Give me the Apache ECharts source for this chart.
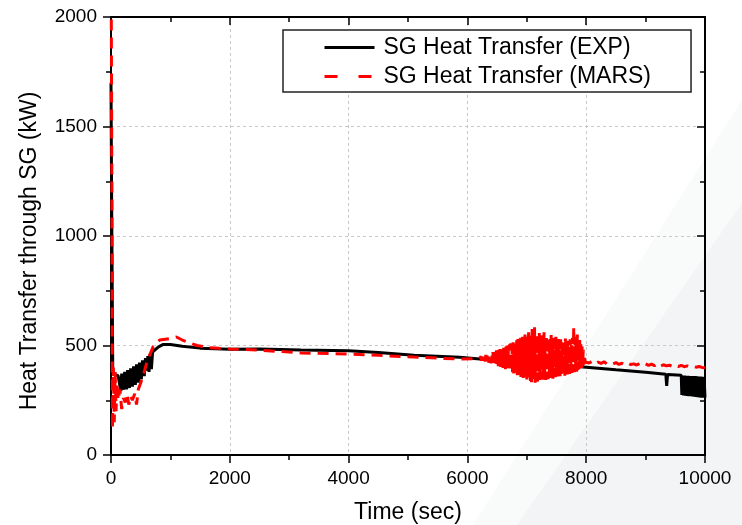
<!DOCTYPE html>
<html>
<head>
<meta charset="utf-8">
<script src="https://cdn.jsdelivr.net/npm/echarts@6/dist/echarts.min.js"></script>
<style>html,body{margin:0;padding:0;background:#fff}#c{width:742px;height:525px}</style>
</head>
<body>
<div id="c"></div>
<script>
var FONT = 'Liberation Sans, Arial, sans-serif';
var seriesNames = ['SG Heat Transfer (EXP)', 'SG Heat Transfer (MARS)'];
var xTicks = [0, 2000, 4000, 6000, 8000, 10000];
var yTicks = [0, 500, 1000, 1500, 2000];

var expTime = [0, 10, 30, 60, 120, 150, 165, 180, 210, 230, 260, 280, 310, 330, 360, 380, 410, 430, 460, 480, 510, 530, 560, 580, 600, 620, 640, 660, 680, 700, 750, 800, 880, 1000, 1200, 1500, 2000, 2500, 3200, 4000, 4500, 5100, 5870, 6500, 7000, 7500, 8000, 8500, 9000, 9340, 9355, 9370, 9600,
  9610, 9625, 9640, 9655, 9670, 9685, 9700, 9715, 9730, 9745, 9760, 9775, 9790, 9805, 9820, 9835, 9850, 9865, 9880, 9895, 9910, 9925, 9940, 9955, 9970, 9985, 10000];
var expValue = [1700, 1200, 370, 365, 362, 368, 292, 372, 298, 380, 300, 388, 306, 396, 312, 405, 320, 414, 330, 422, 345, 432, 360, 442, 385, 452, 380, 462, 392, 470, 482, 494, 505, 505, 497, 488, 483, 484, 480, 476, 468, 456, 446, 432, 422, 412, 401, 389, 378, 369, 316, 368, 364,
  274, 363, 272, 363, 271, 362, 270, 362, 269, 361, 268, 361, 267, 360, 266, 360, 265, 359, 264, 358, 263, 358, 262, 357, 262, 356, 262];

var marsTime = [0, 15, 25, 40, 55, 70, 85, 100, 120, 150, 180, 210, 240, 270, 300, 330, 360, 400, 430, 460, 500, 550, 600, 650, 710, 760, 820, 1000, 1100, 1200, 1330, 1450, 1650, 1820, 2000, 2500, 3200, 4000, 4500, 5100, 5870,
  6200, 6210, 6220, 6230, 6240, 6250, 6260, 6270, 6280, 6290, 6300, 6310, 6320, 6330, 6340, 6350, 6360, 6370, 6380, 6390,
  6400, 6410, 6420, 6430, 6440, 6450, 6460, 6470, 6480, 6490, 6500, 6510, 6520, 6530, 6540, 6550, 6560, 6570, 6580, 6590,
  6600, 6610, 6620, 6630, 6640, 6650, 6660, 6670, 6680, 6690, 6700, 6710, 6720, 6730, 6740, 6750, 6760, 6770, 6780, 6790,
  6800, 6810, 6820, 6830, 6840, 6850, 6860, 6870, 6880, 6890, 6900, 6910, 6920, 6930, 6940, 6950, 6960, 6970, 6980, 6990,
  7000, 7010, 7020, 7030, 7040, 7050, 7060, 7070, 7080, 7090, 7100, 7110, 7120, 7130, 7140, 7150, 7160, 7170, 7180, 7190,
  7200, 7210, 7220, 7230, 7240, 7250, 7260, 7270, 7280, 7290, 7300, 7310, 7320, 7330, 7340, 7350, 7360, 7370, 7380, 7390,
  7400, 7410, 7420, 7430, 7440, 7450, 7460, 7470, 7480, 7490, 7500, 7510, 7520, 7530, 7540, 7550, 7560, 7570, 7580, 7590,
  7600, 7610, 7620, 7630, 7640, 7650, 7660, 7670, 7680, 7690, 7700, 7710, 7720, 7730, 7740, 7750, 7760, 7770, 7780, 7790,
  7800, 7810, 7820, 7830, 7840, 7850, 7860, 7870, 7880, 7890, 7900, 7910, 7920, 7930, 7940, 7950, 7960, 7970, 7980, 7990,
  8000, 8050, 8100, 8150, 8200, 8250, 8300, 8350, 8400, 8450, 8500, 8550, 8600, 8650, 8700, 8750, 8800, 8850, 8900, 8950,
  9000, 9050, 9100, 9150, 9200, 9250, 9300, 9350, 9400, 9450, 9500, 9550, 9600, 9650, 9700, 9750, 9800, 9850, 9900, 9950, 10000];
var marsValue = [2400, 1200, 120, 400, 150, 380, 200, 330, 250, 300, 210, 260, 240, 280, 230, 270, 250, 280, 230, 300, 329, 370, 420, 455, 495, 510, 525, 532, 539, 525, 511, 500, 490, 487, 484, 479, 466, 461, 455, 447, 438,
  440, 448, 432, 450, 430, 452, 428, 449, 431, 455, 426, 457, 425, 453, 429, 460, 422, 462, 420, 458,
  418, 466, 421, 470, 415, 463, 412, 474, 417, 478, 409, 470, 405, 480, 412, 484, 402, 476, 400, 486,
  398, 490, 404, 482, 392, 495, 388, 500, 396, 488, 384, 505, 380, 510, 390, 498, 376, 515, 372, 520,
  385, 508, 368, 525, 364, 530, 378, 512, 360, 535, 356, 518, 370, 540, 352, 528, 348, 550, 362, 545,
  345, 535, 340, 560, 355, 530, 338, 548, 332, 575, 350, 525, 336, 594, 330, 545, 342, 555, 335, 540,
  348, 565, 340, 535, 352, 550, 345, 528, 336, 560, 355, 532, 342, 545, 350, 520, 346, 538, 358, 530,
  352, 548, 360, 525, 348, 535, 365, 515, 355, 540, 362, 522, 358, 530, 368, 512, 360, 528, 370, 518,
  365, 525, 372, 510, 362, 532, 375, 515, 368, 522, 378, 505, 370, 528, 380, 512, 374, 535, 382, 584,
  378, 540, 385, 520, 380, 550, 388, 515, 392, 525, 395, 505, 398, 495, 405, 480, 412, 455, 425, 432,
  426, 420, 428, 417, 424, 418, 426, 415, 420, 416, 422, 414, 419, 412, 420, 413, 416, 411, 418, 410,
  416, 409, 415, 408, 417, 406, 412, 407, 410, 405, 411, 404, 409, 403, 407, 402, 405, 401, 404, 400, 398];

function zip(a, b) { return a.map(function (t, i) { return [t, b[i]]; }); }
function plain(v) { return String(v); }

var chart = echarts.init(document.getElementById('c'), null, { renderer: 'canvas' });

function xAxisCfg(pos) {
  var bottom = pos === 'bottom';
  return {
    type: 'value', position: pos, min: xTicks[0], max: xTicks[xTicks.length - 1], interval: 2000,
    axisLine: { show: true, onZero: false, lineStyle: { color: '#000', width: 2 } },
    axisTick: { show: true, inside: !bottom, length: 8, lineStyle: { color: '#000', width: 1.5 } },
    minorTick: { show: true, splitNumber: 2, length: 5, lineStyle: { color: '#000', width: 1.5 } },
    axisLabel: { show: bottom, fontSize: 19, color: '#000', fontFamily: FONT, margin: 14, formatter: plain },
    splitLine: { show: bottom, lineStyle: { color: '#c8c8c8', type: [3, 3], width: 1 } },
    name: bottom ? 'Time (sec)' : '', nameLocation: 'middle', nameGap: 46,
    nameTextStyle: { fontSize: 23, color: '#000', fontFamily: FONT }
  };
}
function yAxisCfg(pos) {
  var left = pos === 'left';
  return {
    type: 'value', position: pos, min: yTicks[0], max: yTicks[yTicks.length - 1], interval: 500,
    axisLine: { show: true, onZero: false, lineStyle: { color: '#000', width: 2 } },
    axisTick: { show: true, inside: !left, length: 8, lineStyle: { color: '#000', width: 1.5 } },
    minorTick: { show: true, splitNumber: 2, length: 5, lineStyle: { color: '#000', width: 1.5 } },
    axisLabel: { show: left, fontSize: 19, color: '#000', fontFamily: FONT, margin: 14, formatter: plain },
    splitLine: { show: left, lineStyle: { color: '#c8c8c8', type: [3, 3], width: 1 } }
  };
}

chart.setOption({
  animation: false,
  backgroundColor: '#fff',
  graphic: [
    { type: 'polygon', z: -10, silent: true, shape: { points: [[473, 525], [742, 100], [742, 525]] }, style: { fill: '#f9fafa' } },
    { type: 'polygon', z: -9, silent: true, shape: { points: [[517, 525], [742, 203], [742, 525]] }, style: { fill: '#f3f4f5' } },
    { type: 'text', z: 10, x: 30, y: 251, rotation: Math.PI / 2,
      style: { text: 'Heat Transfer through SG (kW)', fontSize: 23, fontFamily: FONT, fill: '#000', align: 'center', verticalAlign: 'middle' } }
  ],
  grid: { left: 111, right: 37, top: 17, bottom: 70, containLabel: false, outerBoundsMode: 'none' },
  xAxis: [xAxisCfg('bottom'), xAxisCfg('top')],
  yAxis: [yAxisCfg('left'), yAxisCfg('right')],
  legend: {
    orient: 'vertical', left: 283, top: 30,
    padding: [6, 40, 4, 40],
    itemWidth: 50, itemHeight: 23, itemGap: 6,
    borderColor: '#222', borderWidth: 1.5, backgroundColor: '#fff',
    icon: 'inherit',
    itemStyle: { opacity: 0 },
    textStyle: { fontSize: 23, color: '#000', fontFamily: FONT, lineHeight: 23, padding: [0, 0, 0, 4] },
    data: [
      { name: seriesNames[0], itemStyle: { opacity: 0 }, lineStyle: { type: 'solid', width: 3, color: '#000' } },
      { name: seriesNames[1], itemStyle: { opacity: 0 }, lineStyle: { type: [13, 21], width: 3, color: '#ff0000' } }
    ]
  },
  series: [
    { name: seriesNames[0], type: 'line', data: zip(expTime, expValue), symbol: 'none', showSymbol: false,
      lineStyle: { color: '#000', width: 3 }, itemStyle: { color: '#000' }, clip: true, z: 2 },
    { name: seriesNames[1], type: 'line', data: zip(marsTime, marsValue), symbol: 'none', showSymbol: false,
      lineStyle: { color: '#ff0000', width: 3, type: [11, 7] }, itemStyle: { color: '#ff0000' }, clip: true, z: 3 }
  ]
});
</script>
</body>
</html>
